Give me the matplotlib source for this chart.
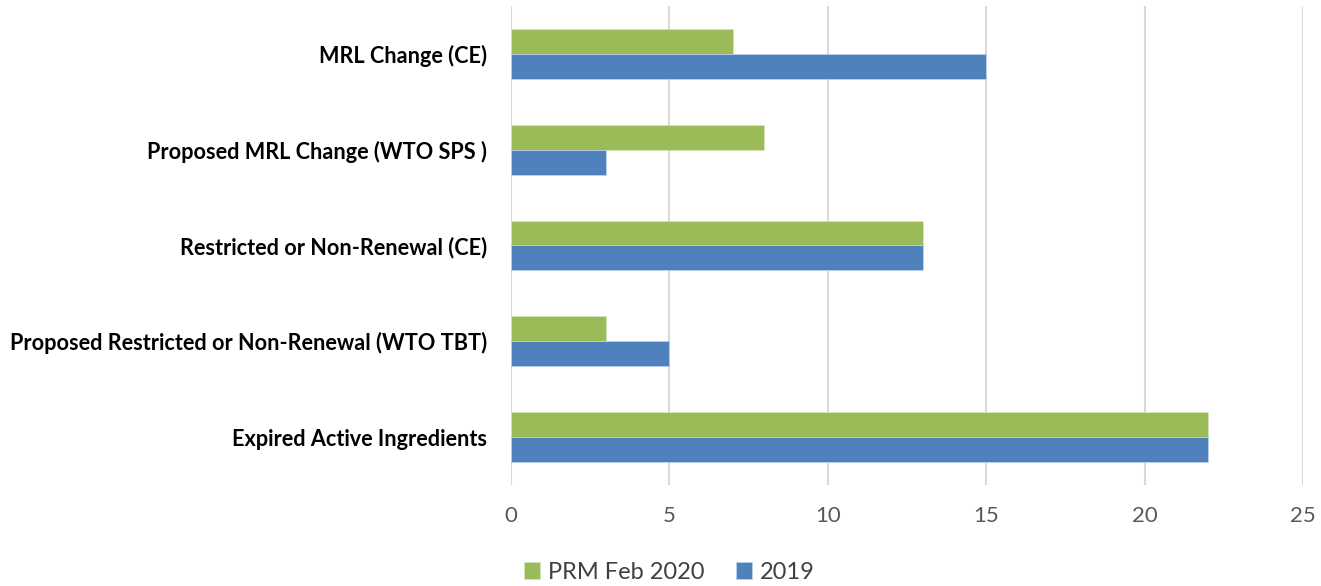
import numpy as np
import matplotlib.pyplot as plt

# dados (de baixo para cima, como o matplotlib desenha)
categorias = [
    "Expired Active Ingredients",
    "Proposed Restricted or Non-Renewal (WTO TBT)",
    "Restricted or Non-Renewal (CE)",
    "Proposed MRL Change (WTO SPS )",
    "MRL Change (CE)",
]
prm_feb_2020 = [22, 3, 13, 8, 7]
ano_2019 = [22, 5, 13, 3, 15]

verde = "#9BBB59"
azul = "#4F81BD"

plt.rcParams['font.family'] = ['Lato', 'DejaVu Sans']

fig = plt.figure(figsize=(13.21, 5.86), dpi=100)
ax = fig.add_axes([0.3868, 0.1724, 0.5996, 0.8174])

y = np.arange(len(categorias))
h = 0.26
ax.barh(y + h/2, prm_feb_2020, height=h, color=verde, edgecolor="#D6E4C0", linewidth=0.6,
        label="PRM Feb 2020", zorder=3)
ax.barh(y - h/2, ano_2019, height=h, color=azul, edgecolor="#BCD0E8", linewidth=0.6,
        label="2019", zorder=3)

ax.set_xlim(0, 25)
ax.set_ylim(-0.5, 4.5)
ax.set_xticks([0, 5, 10, 15, 20, 25])
ax.set_yticks(y)
ax.set_yticklabels(categorias, fontsize=15.6, fontweight="bold", color="black")
ax.tick_params(axis="y", length=0, pad=17)
ax.tick_params(axis="x", length=0, pad=15, labelsize=16, labelcolor="#595959")

for lado in ["top", "right", "bottom", "left"]:
    ax.spines[lado].set_visible(False)
ax.grid(axis="x", color="#D9D9D9", linewidth=1.5, zorder=0)

ax.legend(loc="center", bbox_to_anchor=(0.2, -0.182), ncol=2, frameon=False,
          fontsize=17, handlelength=0.7, handleheight=0.7, handletextpad=0.35,
          columnspacing=1.3, labelcolor="#404040")

plt.savefig("out.png", dpi=100)
